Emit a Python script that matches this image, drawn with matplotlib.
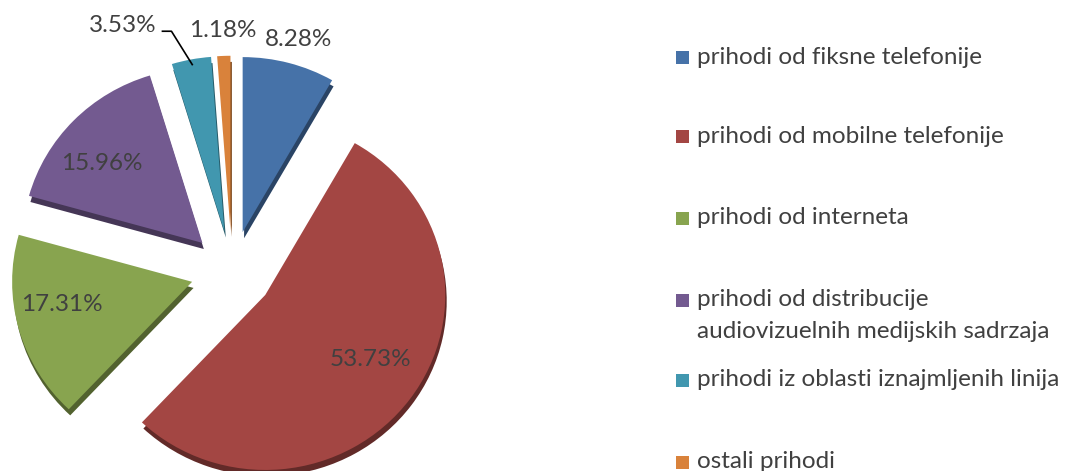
import numpy as np
import matplotlib.pyplot as plt
from matplotlib.patches import Wedge, Rectangle
import matplotlib.colors as mcolors

plt.rcParams['font.family'] = ['Lato', 'DejaVu Sans']

# revenue shares (%)
labels = ['prihodi od fiksne telefonije',
          'prihodi od mobilne telefonije',
          'prihodi od interneta',
          'prihodi od distribucije\naudiovizuelnih medijskih sadrzaja',
          'prihodi iz oblasti iznajmljenih linija',
          'ostali prihodi']
shares = [8.28, 53.73, 17.31, 15.96, 3.53, 1.18]
colors = ['#4672A8', '#A34643', '#88A44F', '#735A90', '#4197AF', '#D9823B']

W, H = 1073, 471
RX, RY = 180.0, 175.0          # pie radius in pixels (slightly wide, like the 3d view)
cx, cy = 232, H - 271          # pie centre in pixels (from bottom)
FS = 17.5

# where each percentage sits: distance (in radii) and angle from the wedge tip
lab_dist = [1.148, 0.706, 0.755, 0.729, 1.314, 1.143]
lab_ang = [73.9, -31.3, -170.3, 141.8, 116.2, 92.1]

fig = plt.figure(figsize=(W/100, H/100), dpi=100)
ax = fig.add_axes([0, 0, 1, 1])

wedges, _ = ax.pie(shares, explode=[0.23]*len(shares), startangle=90,
                   counterclock=False, colors=colors,
                   wedgeprops=dict(linewidth=0, zorder=3))
# pie() resets the limits, so set them afterwards
ax.set_aspect('auto')
ax.set_xlim(-cx/RX, (W-cx)/RX)
ax.set_ylim(-cy/RY, (H-cy)/RY)
ax.axis('off')

# fake 3d depth: darker copy shifted down behind every wedge
for w in wedges:
    dark = np.array(mcolors.to_rgb(w.get_facecolor())) * 0.6
    x0, y0 = w.center
    side = Wedge((x0 + 0.008, y0 - 0.035), w.r, w.theta1, w.theta2,
                 facecolor=dark, linewidth=0, zorder=2)
    ax.add_patch(side)

txt = dict(color='#404040', fontsize=FS, ha='center', va='center', zorder=5)
for w, s, d, a in zip(wedges, shares, lab_dist, lab_ang):
    x0, y0 = w.center
    th = np.deg2rad(a)
    # label offsets measured in round pixels, so undo the x stretch
    tx, ty = x0 + d*np.cos(th)*RY/RX, y0 + d*np.sin(th)
    ax.text(tx, ty, f'{s:.2f}%', **txt)
    if d > 1.25:
        # leader line from the label to the outer edge of the wedge
        tm = np.deg2rad((w.theta1 + w.theta2) / 2)
        ex, ey = x0 + 0.97*np.cos(tm), y0 + 0.97*np.sin(tm)
        ax.plot([tx + 0.22, tx + 0.27, ex], [ty - 0.035, ty - 0.035, ey],
                color='black', lw=1.2, zorder=4)

# legend, placed like the original one
leg_y = [57, 137, 218, 300, 380, 462]
for lab, c, yy in zip(labels, colors, leg_y):
    fy = 1 - yy / H
    fig.add_artist(Rectangle((676/W, fy - 6.5/H), 13/W, 13/H,
                             transform=fig.transFigure, facecolor=c,
                             edgecolor='none'))
    for k, ln in enumerate(lab.split('\n')):
        fig.text(697/W, 1 - (yy + 32*k)/H, ln, color='#404040', fontsize=FS,
                 ha='left', va='center')

fig.savefig('out.png', dpi=100)
